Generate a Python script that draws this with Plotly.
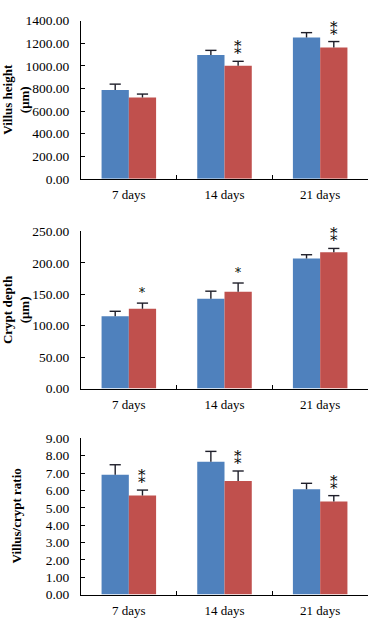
import plotly.graph_objects as go

categories = ["7 days", "14 days", "21 days"]

villus_blue = [786, 1095, 1251]
villus_blue_err = [52, 42, 43]
villus_red = [720, 1000, 1163]
villus_red_err = [30, 40, 52]
villus_sig = ["", "**", "**"]

crypt_blue = [115, 143, 207]
crypt_blue_err = [8, 12, 6]
crypt_red = [127, 154, 217]
crypt_red_err = [9, 14, 6]
crypt_sig = ["*", "*", "**"]

ratio_blue = [6.90, 7.65, 6.07]
ratio_blue_err = [0.58, 0.60, 0.34]
ratio_red = [5.71, 6.54, 5.36]
ratio_red_err = [0.31, 0.58, 0.34]
ratio_sig = ["**", "**", "**"]

y_titles = ["<b>Villus height<br>(μm)</b>", "<b>Crypt depth<br>(μm)</b>", "<b>Villus/crypt ratio</b>"]
y_ranges = [[0, 1400], [0, 250], [0, 9]]
y_dticks = [200, 50, 1]

BLUE = "#4F81BD"
RED = "#C0504D"
ERR = "#1f1f2a"
FONT = "Liberation Serif"

W, H = 378, 624
L, R = 81, 10
domains = [[1 - 176 / H, 1 - 14 / H], [1 - 391 / H, 1 - 230 / H], [1 - 602 / H, 1 - 442 / H]]

panels = [
    (villus_blue, villus_blue_err, villus_red, villus_red_err, villus_sig),
    (crypt_blue, crypt_blue_err, crypt_red, crypt_red_err, crypt_sig),
    (ratio_blue, ratio_blue_err, ratio_red, ratio_red_err, ratio_sig),
]

SIG_TEXT = {"*": "*", "**": "⁑"}

fig = go.Figure()
annotations = []
layout = {}
plot_w = W - L - R
cat_w = plot_w / len(categories)
bargap = 0.43
bar_w = cat_w * (1 - bargap) / 2

for i, (b, be, r, re, sig) in enumerate(panels):
    n = "" if i == 0 else str(i + 1)
    xa, ya = "x" + n, "y" + n
    for g, (vals, errs, col) in enumerate(((b, be, BLUE), (r, re, RED))):
        fig.add_trace(go.Bar(
            x=categories, y=vals, xaxis=xa, yaxis=ya, offsetgroup=str(g),
            marker=dict(color=col, line=dict(width=0)),
            showlegend=False, hoverinfo="skip",
        ))
    for g, (vals, errs) in enumerate(((b, be), (r, re))):
        tops = [v + e for v, e in zip(vals, errs)]
        fig.add_trace(go.Scatter(
            x=categories, y=tops, xaxis=xa, yaxis=ya, offsetgroup=str(g),
            mode="markers",
            marker=dict(symbol="line-ew-open", size=8, color=ERR,
                        line=dict(width=1.4, color=ERR)),
            error_y=dict(type="data", symmetric=False, array=[0] * len(errs),
                         arrayminus=errs, color=ERR, thickness=1.4, width=0),
            showlegend=False, hoverinfo="skip", cliponaxis=False,
        ))
    for c, v, e, s in zip(categories, r, re, sig):
        if not s:
            continue
        annotations.append(dict(
            x=c, y=v + e, xref=xa, yref=ya, text=SIG_TEXT[s], showarrow=False,
            xshift=bar_w / 2, yshift=1, yanchor="bottom",
            font=dict(family="DejaVu Serif", size=12 if s == "*" else 15, color="black"),
        ))
    dom = domains[i]
    annotations.append(dict(
        x=-65 / plot_w, y=(dom[0] + dom[1]) / 2, xref="paper", yref="paper",
        text=y_titles[i], textangle=-90, showarrow=False,
        xanchor="center", yanchor="middle",
        font=dict(family=FONT, size=13, color="black"),
    ))
    layout["xaxis" + n] = dict(
        domain=[0, 1], anchor=ya, type="category",
        showline=True, linecolor="black", linewidth=1,
        ticks="inside", ticklen=4, tickcolor="black", tickson="boundaries",
        ticklabelstandoff=4,
        showgrid=False, tickfont=dict(family=FONT, size=13, color="black"),
    )
    layout["yaxis" + n] = dict(
        domain=dom, anchor=xa, range=y_ranges[i], dtick=y_dticks[i],
        tickformat=".2f", showline=True, linecolor="black", linewidth=1,
        ticks="inside", ticklen=4, tickcolor="black", showgrid=False,
        ticklabelstandoff=8,
        zeroline=False, tickfont=dict(family=FONT, size=13.5, color="black"),
    )

fig.update_layout(
    width=W, height=H, margin=dict(l=L, r=R, t=0, b=0),
    paper_bgcolor="white", plot_bgcolor="white",
    barmode="group", bargap=bargap, bargroupgap=0,
    scattermode="group", scattergap=bargap,
    annotations=annotations, **layout,
)

fig.write_html("out.html")
